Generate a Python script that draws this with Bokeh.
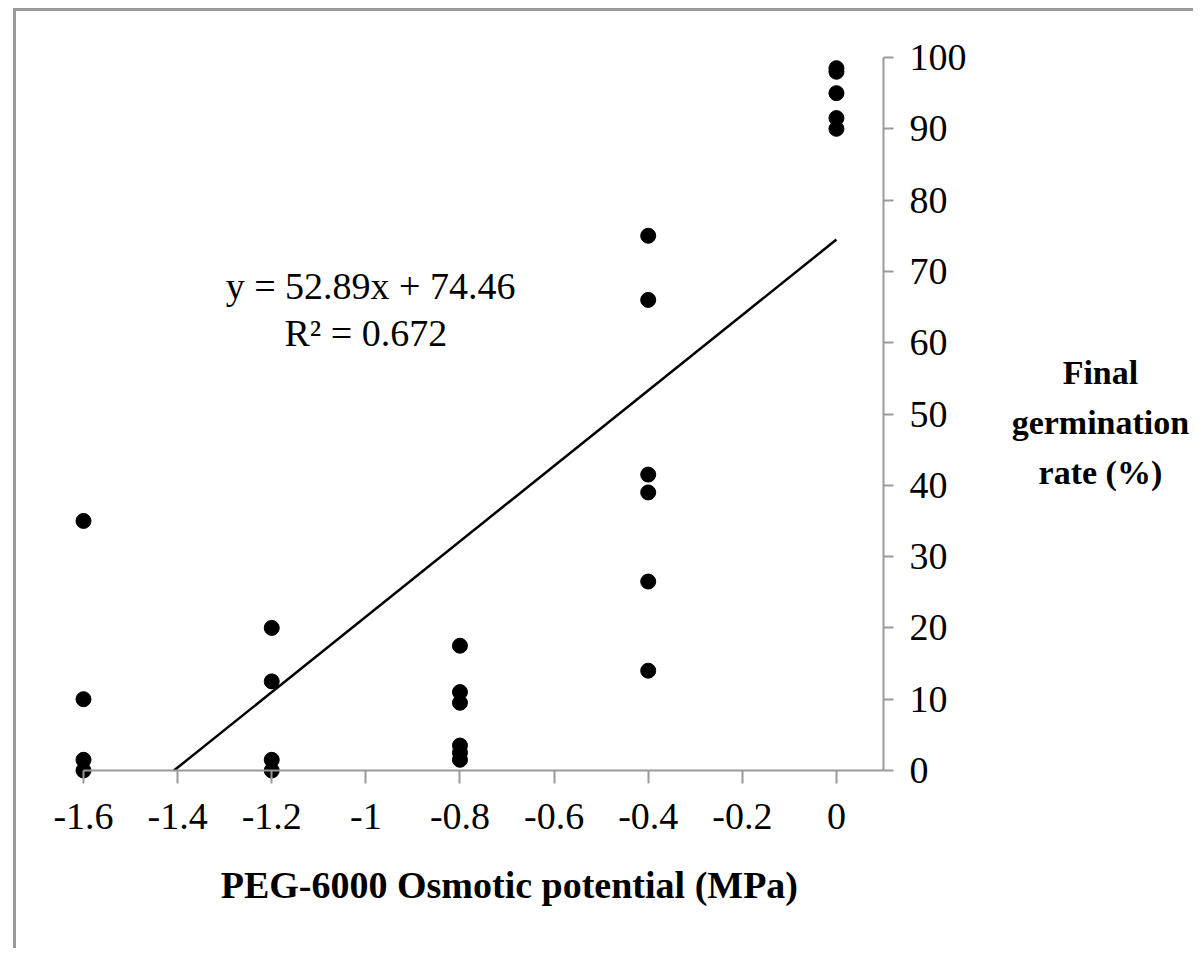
from bokeh.plotting import figure
from bokeh.models import Range1d, FixedTicker, Label
from bokeh.embed import file_html
from bokeh.resources import INLINE

# ---- data ----
x_groups = [-1.6, -1.2, -0.8, -0.4, 0.0]
germ_m16 = [35.0, 10.0, 1.5, 0.0]
germ_m12 = [20.0, 12.5, 1.5, 0.0]
germ_m08 = [17.5, 11.0, 9.5, 3.5, 2.5, 1.5]
germ_m04 = [75.0, 66.0, 41.5, 39.0, 26.5, 14.0]
germ_00 = [98.5, 98.0, 95.0, 91.5, 90.0]

x_ticks = [-1.6, -1.4, -1.2, -1.0, -0.8, -0.6, -0.4, -0.2, 0.0]
x_tick_labels = ["-1.6", "-1.4", "-1.2", "-1", "-0.8", "-0.6", "-0.4", "-0.2", "0"]
y_ticks = [0, 10, 20, 30, 40, 50, 60, 70, 80, 90, 100]

slope = 52.89
intercept = 74.46
r2 = 0.672

x_title = "PEG-6000 Osmotic potential (MPa)"
y_title_lines = ["Final", "germination", "rate (%)"]

# ---- assemble points ----
groups = [germ_m16, germ_m12, germ_m08, germ_m04, germ_00]
xs, ys = [], []
for gx, vals in zip(x_groups, groups):
    for v in vals:
        xs.append(gx)
        ys.append(v)

# ---- layout (pixel geometry -> data ranges) ----
W, H = 1180, 940
x_lo, x_hi = -1.6, 0.1
y_lo, y_hi = 0.0, 100.0
fl, fr = 67, 867      # axis extents in canvas px (x)
ft, fb = 46, 759      # axis extents in canvas px (y)
xpp = (x_hi - x_lo) / (fr - fl)
ypp = (y_hi - y_lo) / (fb - ft)
x_start = x_lo - fl * xpp
x_end = x_hi + (W - fr) * xpp
y_end = y_hi + ft * ypp
y_start = y_lo - (H - fb) * ypp

p = figure(width=W, height=H, output_backend="svg", toolbar_location=None,
           x_range=Range1d(x_start, x_end), y_range=Range1d(y_start, y_end),
           y_axis_location="right", min_border=0,
           styles={"border-left": "3px solid #9a9a9a", "border-top": "3px solid #9a9a9a",
                   "margin-left": "13px", "margin-top": "8px"})
p.outline_line_color = None
p.xgrid.visible = False
p.ygrid.visible = False
p.background_fill_color = "white"
p.border_fill_color = "white"

font = "Liberation Serif"
for ax in (p.xaxis[0], p.yaxis[0]):
    ax.axis_line_color = "#9a9a9a"
    ax.axis_line_width = 2
    ax.major_tick_line_color = "#9a9a9a"
    ax.major_tick_line_width = 2
    ax.major_tick_in = 0
    ax.minor_tick_line_color = None
    ax.major_label_text_font = font
    ax.major_label_text_font_size = "38px"
    ax.major_label_text_color = "black"

p.xaxis.fixed_location = y_lo
p.xaxis.bounds = (x_lo, x_hi)
p.xaxis.ticker = FixedTicker(ticks=x_ticks)
p.xaxis.major_label_overrides = {t: l for t, l in zip(x_ticks, x_tick_labels)}
p.xaxis.major_tick_out = 13
p.xaxis.major_label_standoff = 20

p.yaxis.fixed_location = x_hi
p.yaxis.bounds = (y_lo, y_hi)
p.yaxis.ticker = FixedTicker(ticks=y_ticks)
p.yaxis.major_tick_out = 10
p.yaxis.major_label_standoff = 16

# regression line
x_fit0 = -intercept / slope
x_fit1 = max(x_groups)
p.line([x_fit0, x_fit1], [slope * x_fit0 + intercept, slope * x_fit1 + intercept],
       line_color="black", line_width=2.5)

# points
p.scatter(xs, ys, size=15, marker="circle", fill_color="black", line_color="black")

# equation
p.add_layout(Label(x=-0.99, y=68.0, text=f"y = {slope}x + {intercept}",
                   text_font=font, text_font_size="38px", text_align="center",
                   text_baseline="middle", text_color="black"))
p.add_layout(Label(x=-1.0, y=61.3, text=f"R\u00b2 = {r2}",
                   text_font=font, text_font_size="38px", text_align="center",
                   text_baseline="middle", text_color="black"))

# axis titles
p.add_layout(Label(x=-0.695, y=-16.1, text=x_title, text_font=font,
                   text_font_size="38px", text_font_style="bold", text_align="center",
                   text_baseline="middle", text_color="black"))
for i, line in enumerate(y_title_lines):
    p.add_layout(Label(x=0.561, y=55.8 - 7.0 * i, text=line, text_font=font,
                       text_font_size="34px", text_font_style="bold", text_align="center",
                       text_baseline="middle", text_color="black"))

open("out.html", "w").write(file_html(p, INLINE))
